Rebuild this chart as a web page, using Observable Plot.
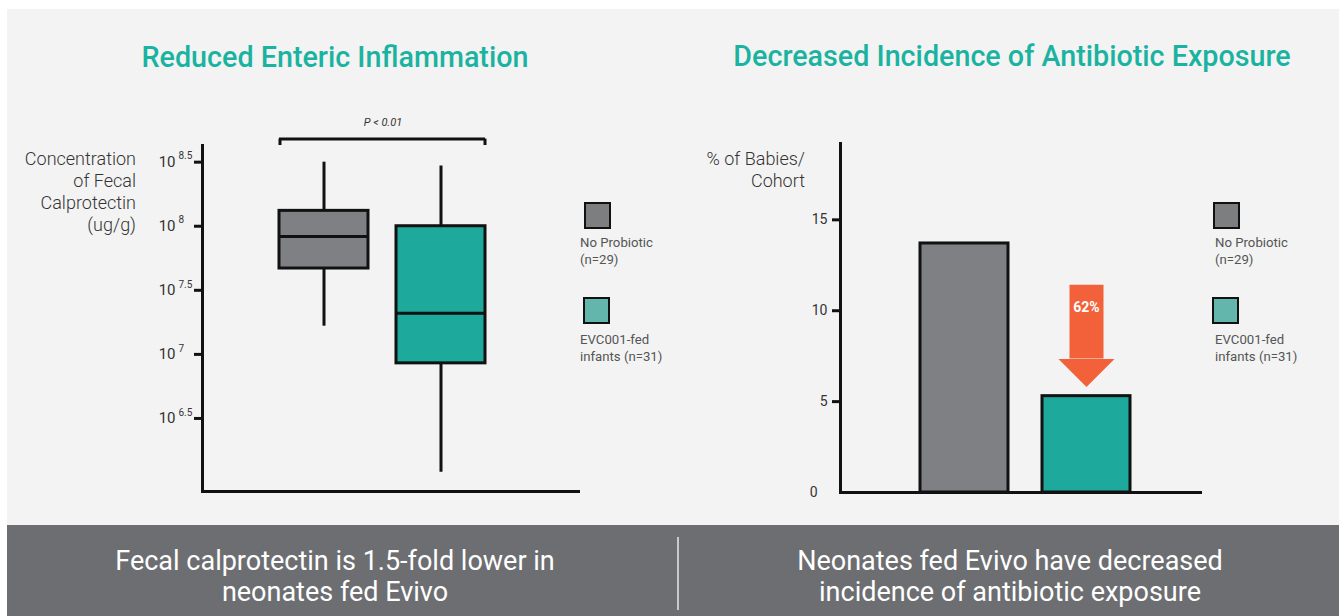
<!DOCTYPE html>
<html>
<head>
<meta charset="utf-8">
<script src="https://cdn.jsdelivr.net/npm/d3@7"></script>
<script src="https://cdn.jsdelivr.net/npm/@observablehq/plot@0.6"></script>
<style>
  html, body { margin: 0; padding: 0; background: #ffffff; }
  body { width: 1339px; height: 616px; position: relative; overflow: hidden; font-family: Roboto, "Noto Sans", sans-serif; }
  .abs { position: absolute; }
  .panel { left: 7px; top: 9px; width: 1332px; height: 516px; background: #f3f3f3; }
  .band { left: 7px; top: 525px; width: 1332px; height: 91px; background: #6d6e71; }
  .title { font-size: 28.7px; font-weight: 500; color: #1ab3a1; white-space: nowrap; transform: translateX(-50%); line-height: 32px; }
  .ylab { font-size: 18px; font-weight: 300; color: #333; text-align: right; line-height: 22px; white-space: nowrap; transform: translateX(-100%); }
  .sq { width: 23px; height: 23px; border: 2px solid #111; }
  .legtxt { font-size: 13.2px; color: #555; line-height: 17px; white-space: nowrap; }
  .foot { font-size: 27px; color: #ffffff; text-align: center; line-height: 31px; white-space: nowrap; transform: translateX(-50%); }
  .divider { left: 677px; top: 537px; width: 2px; height: 73px; background: #c9c9c9; }
  svg { overflow: visible; }
</style>
</head>
<body>
<div class="abs panel"></div>
<div class="abs band"></div>
<div class="abs divider"></div>
<div id="left" class="abs" style="left:140px; top:100px;"></div>
<div id="right" class="abs" style="left:780px; top:100px;"></div>
<div id="texts"></div>
<script>
// ---------- Data ----------
const groups = ["No Probiotic (n=29)", "EVC001-fed infants (n=31)"];
const legendLines = [["No Probiotic", "(n=29)"], ["EVC001-fed", "infants (n=31)"]];
// Box plot summary (log10 of fecal calprotectin, ug/g)
const whiskerLow  = [7.22, 6.08];
const q1          = [7.67, 6.93];
const median      = [7.92, 7.32];
const q3          = [8.12, 8.00];
const whiskerHigh = [8.50, 8.47];
const logTicks = [6.5, 7, 7.5, 8, 8.5];
const logDomain = [5.93, 8.63];
const pLabel = "P < 0.01";
const bracketLevel = 8.68;
const pLabelLevel = 8.81;

// Bar chart: % of babies per cohort with antibiotic exposure
const pctValues = [13.7, 5.3];
const pctTicks = [5, 10, 15];
const pctDomain = [0, 19.2];
const reductionLabel = "62%";
const arrowTop = 11.4, arrowNeck = 7.35, arrowTip = 5.8, arrowLabelLevel = 10.15;

const titles = ["Reduced Enteric Inflammation", "Decreased Incidence of Antibiotic Exposure"];
const yLabels = [["Concentration", "of Fecal", "Calprotectin", "(ug/g)"], ["% of Babies/", "Cohort"]];
const footers = [["Fecal calprotectin is 1.5-fold lower in", "neonates fed Evivo"],
                 ["Neonates fed Evivo have decreased", "incidence of antibiotic exposure"]];

const boxColors = ["#7e8083", "#1da99c"];
const legendColors = ["#7d7e80", "#63b6ab"];

// ---------- Tables ----------
const boxes = groups.map((g, i) => ({group: g, lo: whiskerLow[i], q1: q1[i], med: median[i], q3: q3[i], hi: whiskerHigh[i]}));
const bars = groups.map((g, i) => ({group: g, value: pctValues[i]}));

const font = "Roboto, 'Noto Sans', sans-serif";

// ---------- Left: box plot ----------
const lRange = [138, 346], lPad = 0.237;
const lStep = (lRange[1] - lRange[0]) / (groups.length - lPad);
const lBw = lStep * (1 - lPad);
const left = Plot.plot({
  width: 540, height: 400,
  marginLeft: 62, marginRight: 102, marginTop: 45, marginBottom: 9,
  style: {background: "transparent", fontFamily: font, overflow: "visible", color: "#111"},
  x: {domain: groups, range: lRange, paddingInner: lPad, paddingOuter: 0, axis: null},
  y: {domain: logDomain, axis: null},
  color: {domain: groups, range: boxColors},
  marks: [
    Plot.frame({anchor: "left", strokeWidth: 3, stroke: "#111"}),
    Plot.frame({anchor: "bottom", strokeWidth: 3, stroke: "#111"}),
    Plot.axisY(logTicks, {tickSize: 8, strokeWidth: 3, stroke: "#111", tickFormat: () => "", label: null}),
    Plot.text(logTicks, {y: d => d, frameAnchor: "left", text: () => "10", textAnchor: "end", dx: -27, fontSize: 15, fill: "#333"}),
    Plot.text(logTicks, {y: d => d, frameAnchor: "left", text: d => String(d), textAnchor: "start", dx: -24, dy: -6, fontSize: 10, fill: "#333"}),
    Plot.ruleX(boxes, {x: "group", y1: "lo", y2: "hi", strokeWidth: 3, stroke: "#111"}),
    Plot.barY(boxes, {x: "group", y1: "q1", y2: "q3", fill: "group", stroke: "#111", strokeWidth: 3}),
    Plot.tickY(boxes, {x: "group", y: "med", strokeWidth: 3, stroke: "#111"}),
    Plot.ruleY([bracketLevel], {x1: () => groups[0], x2: () => groups[1], strokeWidth: 3, stroke: "#111"}),
    Plot.ruleX([groups[0]], {x: d => d, y1: bracketLevel, y2: logDomain[1], dx: -lBw / 2 + 1, strokeWidth: 3, stroke: "#111"}),
    Plot.ruleX([groups[1]], {x: d => d, y1: bracketLevel, y2: logDomain[1], dx: lBw / 2 - 1, strokeWidth: 3, stroke: "#111"}),
    Plot.text([pLabel], {x: () => groups[0], y: pLabelLevel, dx: lStep / 2, text: d => d, fontStyle: "italic", fontSize: 11, fill: "#333"})
  ]
});
document.getElementById("left").append(left);

// ---------- Right: bar chart ----------
const rRange = [140, 350], rPad = 0.279;
const headShape = {
  draw(context, size) {
    const r = Math.sqrt(size / Math.PI);
    context.moveTo(-r, -r);
    context.lineTo(r, -r);
    context.lineTo(0, 0);
    context.closePath();
  }
};
const right = Plot.plot({
  width: 540, height: 400,
  marginLeft: 60, marginRight: 120, marginTop: 43, marginBottom: 8,
  style: {background: "transparent", fontFamily: font, overflow: "visible", color: "#111"},
  x: {domain: groups, range: rRange, paddingInner: rPad, paddingOuter: 0, axis: null},
  y: {domain: pctDomain, axis: null},
  color: {domain: groups, range: boxColors},
  marks: [
    Plot.barY(bars, {x: "group", y: "value", fill: "group", stroke: "#111", strokeWidth: 3}),
    Plot.frame({anchor: "left", strokeWidth: 3, stroke: "#111"}),
    Plot.frame({anchor: "bottom", strokeWidth: 3, stroke: "#111"}),
    Plot.axisY(pctTicks, {tickSize: 8, strokeWidth: 3, stroke: "#111", tickPadding: 5, fontSize: 14, fill: "#333", label: null}),
    Plot.axisY([0], {tickSize: 0, tickPadding: 23, fontSize: 14, fill: "#333", label: null}),
    Plot.ruleX([groups[1]], {x: d => d, y1: arrowTop, y2: arrowNeck, stroke: "#f26139", strokeWidth: 34}),
    Plot.dot([groups[1]], {x: d => d, y: arrowTip, r: 28, symbol: headShape, fill: "#f26139", stroke: null}),
    Plot.text([reductionLabel], {x: () => groups[1], y: arrowLabelLevel, text: d => d, fill: "#ffffff", fontWeight: "bold", fontSize: 14})
  ]
});
document.getElementById("right").append(right);

// ---------- HTML texts ----------
const T = document.getElementById("texts");
function add(cls, style, html) {
  const d = document.createElement("div");
  d.className = "abs " + cls;
  d.setAttribute("style", style);
  d.innerHTML = html;
  T.append(d);
}
add("title", "left:335px; top:41px;", titles[0]);
add("title", "left:1012px; top:40px;", titles[1]);
add("ylab", "left:136px; top:148px;", yLabels[0].join("<br>"));
add("ylab", "left:805px; top:148px;", yLabels[1].join("<br>"));
const legendX = [[584, 580], [1213, 1215]];
legendX.forEach(([sx, tx]) => {
  add("sq", `left:${sx}px; top:202px; background:${legendColors[0]};`, "");
  add("legtxt", `left:${tx}px; top:234px;`, legendLines[0].join("<br>"));
  add("sq", `left:${sx - 1}px; top:297px; background:${legendColors[1]};`, "");
  add("legtxt", `left:${tx}px; top:331px;`, legendLines[1].join("<br>"));
});
add("foot", "left:335px; top:546px;", footers[0].join("<br>"));
add("foot", "left:1010px; top:546px;", footers[1].join("<br>"));
</script>
</body>
</html>
